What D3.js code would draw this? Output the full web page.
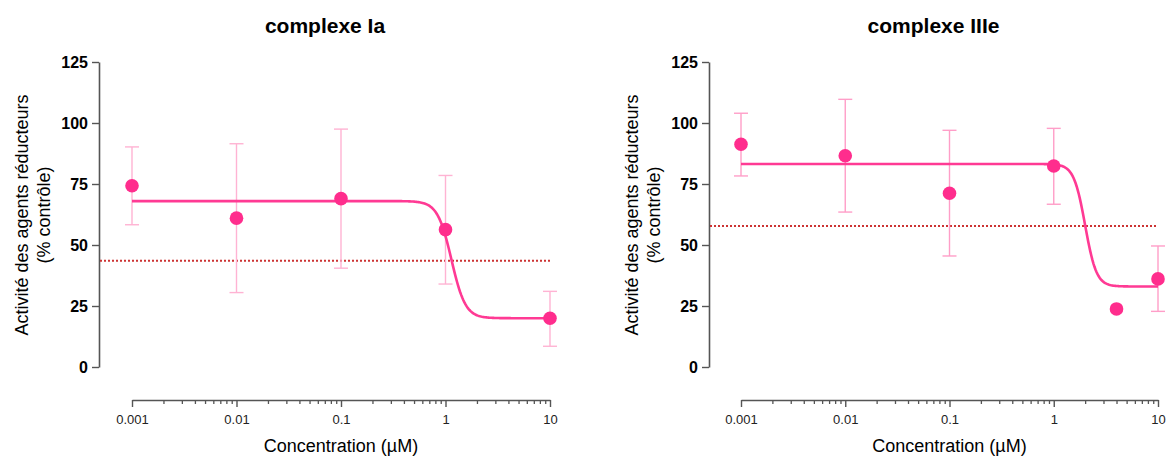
<!DOCTYPE html>
<html><head><meta charset="utf-8">
<script src="https://cdn.jsdelivr.net/npm/d3@7"></script>
<style>
body{margin:0;background:#fff;}
svg{display:block;font-family:"Liberation Sans",Arial,Helvetica,sans-serif;}
</style></head>
<body><svg id="c" width="1166" height="456"></svg>
<script>
// ---- data ----
const titles = ["complexe Ia", "complexe IIIe"];
const concA = [0.001, 0.01, 0.1, 1, 10];
const meanA = [74.3, 61, 69, 56.3, 20];
const errLowA = [58.3, 30.5, 40.5, 34, 8.5];
const errHighA = [90.2, 91.5, 97.5, 78.5, 31];
const fitA = {top: 68, bottom: 20, ic50: 1.14, hill: 6.5};
const refLineA = 43.5;

const concB = [0.001, 0.01, 0.1, 1, 4, 10];
const meanB = [91.3, 86.6, 71.2, 82.4, 23.8, 36.1];
const errLowB = [78.3, 63.5, 45.5, 66.7, null, 22.8];
const errHighB = [104, 109.7, 97, 97.8, null, 49.6];
const fitB = {top: 83.2, bottom: 33, ic50: 2.0, hill: 8};
const refLineB = 57.8;

const yTicks = [0, 25, 50, 75, 100, 125];
const xTicks = [0.001, 0.01, 0.1, 1, 10];
const xTickLabels = ["0.001", "0.01", "0.1", "1", "10"];
const yTitle = ["Activité des agents réducteurs", "(% contrôle)"];
const xTitle = "Concentration (µM)";

// ---- drawing ----
const svg = d3.select("#c");
const panels = [
  {title: titles[0], conc: concA, mean: meanA, lo: errLowA, hi: errHighA, fit: fitA, ref: refLineA,
   yAxisX: 99, x0: 132, x1: 550, errColor: "#ffb3d3"},
  {title: titles[1], conc: concB, mean: meanB, lo: errLowB, hi: errHighB, fit: fitB, ref: refLineB,
   yAxisX: 709, x0: 741, x1: 1158, errColor: "#ff9ec8"}
];
const ptColor = "#ff2d8d", lineColor = "#ff3a94", axisColor = "#555";

panels.forEach(p => {
  const g = svg.append("g");
  const x = d3.scaleLog().domain([0.001, 10]).range([p.x0, p.x1]);
  const y = d3.scaleLinear().domain([0, 125]).range([367, 62]);

  // title
  g.append("text").attr("x", (p.x0 + p.x1) / 2 - 16).attr("y", 33).attr("text-anchor", "middle")
    .attr("font-size", 21).attr("font-weight", "bold").text(p.title);

  // y axis
  const ya = g.append("g").attr("transform", `translate(${p.yAxisX},0)`)
    .call(d3.axisLeft(y).tickValues(yTicks).tickSize(7).tickPadding(4).tickSizeOuter(0));
  ya.select(".domain").attr("stroke", axisColor).attr("stroke-width", 1.6);
  ya.selectAll(".tick line").attr("stroke", axisColor).attr("stroke-width", 1.4);
  ya.selectAll(".tick text").attr("font-size", 16).attr("font-weight", "bold").attr("fill", "#000")
    .attr("font-family", "Liberation Sans, Arial, sans-serif");

  // y title
  const yt = g.append("text").attr("transform", `translate(${p.yAxisX - 71},215) rotate(-90)`)
    .attr("text-anchor", "middle").attr("font-size", 18).attr("fill", "#000");
  yt.append("tspan").attr("x", 0).attr("dy", 0).text(yTitle[0]);
  yt.append("tspan").attr("x", 0).attr("dy", 22).text(yTitle[1]);

  // x axis
  const minor = [];
  for (let e = -3; e < 1; e++) for (let k = 2; k <= 9; k++) minor.push(k * Math.pow(10, e));
  const xg = g.append("g").attr("transform", "translate(0,400)");
  xg.call(d3.axisBottom(x).tickValues(xTicks).tickSize(7).tickPadding(8).tickSizeOuter(0)
    .tickFormat((d, i) => xTickLabels[i]));
  xg.select(".domain").attr("stroke", axisColor).attr("stroke-width", 1.6);
  xg.selectAll(".tick line").attr("stroke", axisColor).attr("stroke-width", 1.4);
  xg.selectAll(".tick text").attr("font-size", 13).attr("fill", "#222")
    .attr("font-family", "Liberation Sans, Arial, sans-serif");
  const xm = g.append("g").attr("transform", "translate(0,400)");
  xm.call(d3.axisBottom(x).tickValues(minor).tickSize(4).tickFormat(""));
  xm.select(".domain").remove();
  xm.selectAll(".tick line").attr("stroke", axisColor).attr("stroke-width", 1.3);

  g.append("text").attr("x", (p.x0 + p.x1) / 2).attr("y", 452).attr("text-anchor", "middle")
    .attr("font-size", 18).attr("fill", "#000").text(xTitle);

  // reference dotted line
  g.append("line").attr("x1", p.yAxisX + 1).attr("x2", p.x1).attr("y1", y(p.ref)).attr("y2", y(p.ref))
    .attr("stroke", "#cc3333").attr("stroke-width", 2).attr("stroke-dasharray", "2,2");

  // error bars
  p.conc.forEach((c, i) => {
    if (p.lo[i] == null) return;
    const cx = x(c);
    g.append("line").attr("x1", cx).attr("x2", cx).attr("y1", y(p.lo[i])).attr("y2", y(p.hi[i]))
      .attr("stroke", p.errColor).attr("stroke-width", 1.4);
    [p.lo[i], p.hi[i]].forEach(v => g.append("line").attr("x1", cx - 7).attr("x2", cx + 7)
      .attr("y1", y(v)).attr("y2", y(v)).attr("stroke", p.errColor).attr("stroke-width", 1.4));
  });

  // fitted curve (4-parameter logistic from fit parameters)
  const f = p.fit;
  const xs = d3.range(0, 401).map(i => Math.pow(10, -3 + 4 * i / 400));
  const line = d3.line().x(d => x(d)).y(d => y(f.bottom + (f.top - f.bottom) / (1 + Math.pow(d / f.ic50, f.hill))));
  g.append("path").attr("d", line(xs)).attr("fill", "none").attr("stroke", lineColor).attr("stroke-width", 2.6);

  // points
  g.selectAll("circle.pt").data(p.conc).enter().append("circle")
    .attr("cx", d => x(d)).attr("cy", (d, i) => y(p.mean[i])).attr("r", 6.8).attr("fill", ptColor);
});
</script></body></html>
